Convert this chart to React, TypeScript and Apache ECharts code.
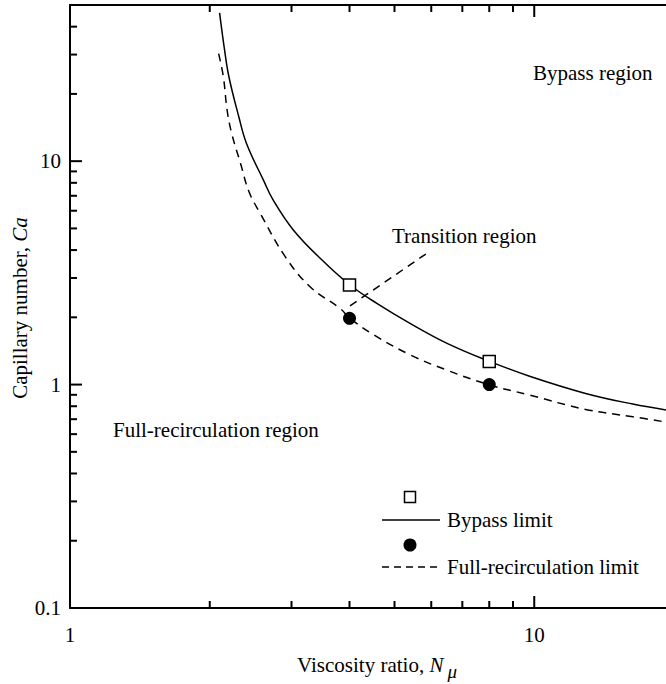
import { useEffect, useRef } from 'react';
import * as echarts from 'echarts';

// Bypass limit curve (solid)
const bypassN = [2.10, 2.15, 2.20, 2.31, 2.40, 2.61, 2.74, 3.03, 3.49, 4.01, 4.58, 5.40, 6.49, 8.01, 9.77, 12.9, 16.3, 19.5];
const bypassCa = [46.1, 32.0, 23.8, 15.8, 12.0, 8.22, 6.69, 4.91, 3.61, 2.79, 2.31, 1.88, 1.53, 1.27, 1.09, 0.913, 0.818, 0.766];
// Full-recirculation limit curve (dashed)
const fullN = [2.09, 2.14, 2.18, 2.23, 2.33, 2.43, 2.57, 2.91, 3.29, 3.82, 4.01, 4.51, 5.40, 6.49, 7.97, 9.77, 12.9, 16.3, 19.5];
const fullCa = [30.3, 23.8, 16.9, 13.3, 9.77, 7.29, 5.83, 3.73, 2.74, 2.19, 1.98, 1.67, 1.36, 1.16, 1.0, 0.898, 0.774, 0.718, 0.676];
// Measured points
const bypassPtN = [4, 8];
const bypassPtCa = [2.79, 1.27];
const fullPtN = [4, 8];
const fullPtCa = [1.98, 1.0];
// Transition region pointer
const pointerN = [4.01, 5.84];
const pointerCa = [2.25, 3.84];
// Ticks
const xMajorTicks = [1, 10];
const xMinorTicks = [2, 3, 4, 5, 6, 7, 8, 9];
const yMajorTicks = [0.1, 1, 10];
const yMinorTicks = [0.2, 0.3, 0.4, 0.5, 0.6, 0.7, 0.8, 0.9, 2, 3, 4, 5, 6, 7, 8, 9, 20, 30, 40];

const X_MIN = 1;
const X_MAX = 20;
const Y_MIN = 0.1;
const Y_MAX = 50;

const FONT = "'Liberation Serif', 'Times New Roman', serif";
const FS = 21;

const zip = (a: number[], b: number[]) => a.map((v, i) => [v, b[i]]);
const fmt = (v: number) => (v < 1 ? v.toFixed(1) : String(Math.round(v)));

function App() {
  const ref = useRef<HTMLDivElement>(null);
  useEffect(() => {
    if (!ref.current) return;
    const chart = echarts.init(ref.current, undefined, { renderer: 'svg' });
    const black = '#000';
    const H = 684;
    const GRID = { left: 70, top: 5, right: -8, bottom: 76 };
    const option: any = {
      animation: false,
      grid: { ...GRID, containLabel: false, outerBoundsMode: 'none' },
      xAxis: [
        {
          type: 'log', logBase: 10, min: X_MIN, max: X_MAX, position: 'bottom',
          axisLine: { show: true, lineStyle: { color: black, width: 2 } },
          axisTick: { show: false },
          axisLabel: { show: true, customValues: xMajorTicks, formatter: fmt, margin: 16, color: black, fontFamily: FONT, fontSize: FS },
          splitLine: { show: false },
        },
        {
          type: 'log', logBase: 10, min: X_MIN, max: X_MAX, position: 'top',
          axisLine: { show: true, lineStyle: { color: black, width: 2 } },
          axisTick: { show: false }, axisLabel: { show: false }, splitLine: { show: false },
        },
      ],
      yAxis: [
        {
          type: 'log', logBase: 10, min: Y_MIN, max: Y_MAX, position: 'left',
          axisLine: { show: true, lineStyle: { color: black, width: 2 } },
          axisTick: { show: false },
          axisLabel: { show: true, customValues: yMajorTicks, formatter: fmt, margin: 9, color: black, fontFamily: FONT, fontSize: FS },
          splitLine: { show: false },
        },
      ],
      series: [
        {
          type: 'line', name: 'Bypass limit', data: zip(bypassN, bypassCa), symbol: 'none',
          smooth: 0.4, lineStyle: { color: black, width: 1.5 }, z: 2,
        },
        {
          type: 'line', name: 'Full-recirculation limit', data: zip(fullN, fullCa), symbol: 'none',
          smooth: 0.4, lineStyle: { color: black, width: 1.5, type: [8, 6] }, z: 2,
        },
        {
          type: 'line', name: 'pointer', data: zip(pointerN, pointerCa), symbol: 'none',
          lineStyle: { color: black, width: 1.5, type: [8, 6] }, z: 2,
        },
        {
          type: 'scatter', data: zip(bypassPtN, bypassPtCa), symbol: 'rect', symbolSize: 12,
          itemStyle: { color: '#fff', borderColor: black, borderWidth: 1.5, opacity: 1 }, z: 5,
        },
        {
          type: 'scatter', data: zip(fullPtN, fullPtCa), symbol: 'circle', symbolSize: 13,
          itemStyle: { color: black, opacity: 1 }, z: 5,
        },
      ],
    };
    chart.setOption(option);

    // Tick marks placed with the library's own axis scales
    const gTop = GRID.top;
    const gBottom = H - GRID.bottom;
    const gLeft = GRID.left;
    const MAJOR = 12;
    const MINOR = 7;
    const ticks: any[] = [];
    const xPix = (v: number) => Number(chart.convertToPixel({ xAxisIndex: 0 } as any, v));
    const yPix = (v: number) => Number(chart.convertToPixel({ yAxisIndex: 0 } as any, v));
    const tick = (x1: number, y1: number, x2: number, y2: number) => ({
      type: 'line', shape: { x1, y1, x2, y2 }, style: { stroke: '#000', lineWidth: 2 },
    });
    xMajorTicks.concat(xMinorTicks).forEach((v) => {
      const len = xMajorTicks.indexOf(v) >= 0 ? MAJOR : MINOR;
      const x = xPix(v);
      if (!isFinite(x)) return;
      ticks.push(tick(x, gBottom, x, gBottom - len));
      ticks.push(tick(x, gTop, x, gTop + len));
    });
    yMajorTicks.concat(yMinorTicks).forEach((v) => {
      const len = yMajorTicks.indexOf(v) >= 0 ? MAJOR : MINOR;
      const y = yPix(v);
      if (!isFinite(y)) return;
      ticks.push(tick(gLeft, y, gLeft + len, y));
    });

    const label = (x: number, y: number, text: string) => ({
      type: 'text', x, y,
      style: { text, fontFamily: FONT, fontSize: FS, fill: black, align: 'left', verticalAlign: 'middle' },
    });

    const graphics: any[] = [
      ...ticks,
      label(533, 73, 'Bypass region'),
      label(392, 236, 'Transition region'),
      label(113, 430, 'Full-recirculation region'),
      label(447, 520, 'Bypass limit'),
      label(447, 567, 'Full-recirculation limit'),
      {
        type: 'rect', shape: { x: 404.5, y: 491.5, width: 11, height: 11 },
        style: { fill: '#fff', stroke: black, lineWidth: 1.5 },
      },
      { type: 'line', shape: { x1: 382, y1: 520, x2: 440, y2: 520 }, style: { stroke: black, lineWidth: 1.5 } },
      { type: 'circle', shape: { cx: 410, cy: 545, r: 6.5 }, style: { fill: black } },
      {
        type: 'line', shape: { x1: 382, y1: 567, x2: 440, y2: 567 },
        style: { stroke: black, lineWidth: 1.5, lineDash: [7, 5] },
      },
      {
        type: 'text', x: 20, y: 308, rotation: Math.PI / 2,
        style: {
          text: '{n|Capillary number, }{i|Ca}', align: 'center', verticalAlign: 'middle',
          rich: {
            n: { fontFamily: FONT, fontSize: FS, fill: black },
            i: { fontFamily: FONT, fontSize: FS, fontStyle: 'italic', fill: black },
          },
        },
      },
      {
        type: 'text', x: 377, y: 665,
        style: {
          text: '{n|Viscosity ratio, }{i|N}{s|μ}', align: 'center', verticalAlign: 'middle',
          rich: {
            n: { fontFamily: FONT, fontSize: FS, fill: black },
            i: { fontFamily: FONT, fontSize: FS, fontStyle: 'italic', fill: black },
            s: { fontFamily: FONT, fontSize: 19, fontStyle: 'italic', fill: black, padding: [12, 0, 0, 4] },
          },
        },
      },
    ];
    chart.setOption({ graphic: graphics });
    return () => chart.dispose();
  }, []);
  return <div ref={ref} style={{ position: 'fixed', left: 0, top: 0, width: 666, height: 684, background: '#fff' }} />;
}

export default App;
